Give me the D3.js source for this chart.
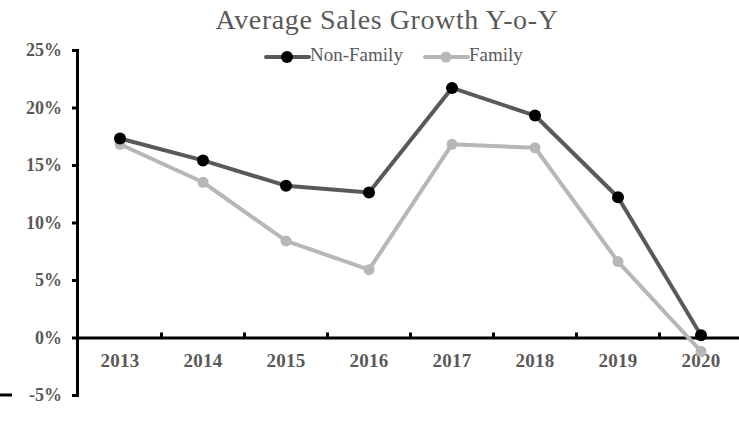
<!DOCTYPE html>
<html><head><meta charset="utf-8">
<script src="https://cdn.jsdelivr.net/npm/d3@7"></script>
<style>body{margin:0;background:#fff}svg{display:block}</style>
</head><body>
<svg id="c" width="739" height="432"></svg>
<script>
const years = ["2013","2014","2015","2016","2017","2018","2019","2020"];
const nonFamily = [17.3, 15.4, 13.2, 12.6, 21.7, 19.3, 12.2, 0.2];
const family = [16.8, 13.5, 8.4, 5.9, 16.8, 16.5, 6.6, -1.2];
const yTicks = [-5, 0, 5, 10, 15, 20, 25];
const seriesNames = ["Non-Family", "Family"];

const svg = d3.select("#c");
const x = d3.scaleBand().domain(years).range([78.5, 742.5]);
const y = d3.scaleLinear().domain([-5, 25]).range([395, 50]);
const serif = "'Liberation Serif','Times New Roman',serif";

// title
svg.append("text").attr("x", 387).attr("y", 29).attr("text-anchor", "middle")
  .attr("font-family", serif).attr("font-size", 28).attr("letter-spacing", 0.6).attr("fill", "#595959")
  .text("Average Sales Growth Y-o-Y");

// y axis
const ya = svg.append("g").attr("transform", "translate(77,0)")
  .call(d3.axisLeft(y).tickValues(yTicks).tickSize(5).tickFormat(d => d + "%"));
ya.select(".domain").attr("stroke", "#000").attr("stroke-width", 3);
ya.selectAll(".tick line").attr("stroke", "#000").attr("stroke-width", 3);
ya.selectAll(".tick text").attr("font-family", serif).attr("font-weight", "bold")
  .attr("font-size", 18).attr("fill", "#595959").attr("x", -15);

// x axis at zero
const xa = svg.append("g").attr("transform", `translate(0,${y(0)})`)
  .call(d3.axisBottom(x).tickSize(0).tickPadding(16));
xa.select(".domain").attr("stroke", "#000").attr("stroke-width", 3);
xa.selectAll(".tick text").attr("font-family", serif).attr("font-weight", "bold")
  .attr("font-size", 19).attr("letter-spacing", 0.3).attr("fill", "#595959").attr("dy", "0.71em");
// band boundary ticks (inside)
svg.append("g").selectAll("line").data(years.slice(1)).join("line")
  .attr("x1", d => x(d)).attr("x2", d => x(d))
  .attr("y1", y(0)).attr("y2", y(0) - 5)
  .attr("stroke", "#000").attr("stroke-width", 3);

// stray mark at far left
svg.append("line").attr("x1", 0).attr("x2", 12).attr("y1", y(-5)).attr("y2", y(-5))
  .attr("stroke", "#000").attr("stroke-width", 3);

const cx = d => x(d) + x.bandwidth() / 2;
const series = [
  {name: seriesNames[0], vals: nonFamily, line: "#595959", mark: "#000", r: 6},
  {name: seriesNames[1], vals: family, line: "#b7b7b7", mark: "#b7b7b7", r: 5.5}
];
const line = d3.line().x(d => cx(d.y)).y(d => y(d.v));
[series[1], series[0]].forEach(s => {
  const pts = years.map((yy, i) => ({y: yy, v: s.vals[i]}));
  svg.append("path").datum(pts).attr("d", line).attr("fill", "none")
    .attr("stroke", s.line).attr("stroke-width", 4).attr("stroke-linejoin", "round");
  svg.append("g").selectAll("circle").data(pts).join("circle")
    .attr("cx", d => cx(d.y)).attr("cy", d => y(d.v)).attr("r", s.r).attr("fill", s.mark);
});

// legend
const legX = [266, 425];
series.forEach((s, i) => {
  const g = svg.append("g").attr("transform", `translate(${legX[i]},57)`);
  g.append("line").attr("x1", 0).attr("x2", 43).attr("stroke", s.line).attr("stroke-width", 4).attr("stroke-linecap", "round");
  g.append("circle").attr("cx", 21).attr("r", s.r).attr("fill", s.mark);
  g.append("text").attr("x", 44).attr("y", 4).attr("font-family", serif).attr("font-size", 19)
    .attr("fill", "#595959").text(s.name);
});
</script>
</body></html>
